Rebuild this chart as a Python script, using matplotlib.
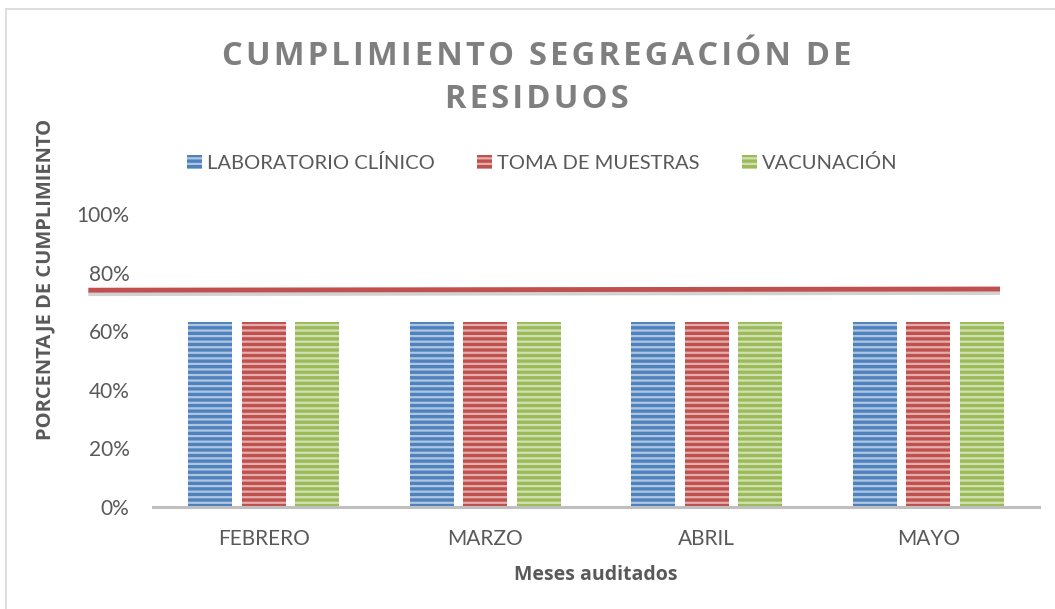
import matplotlib.pyplot as plt
import matplotlib.transforms as mtransforms
import matplotlib.patheffects as pe
import numpy as np

plt.rcParams['font.family'] = ['Lato', 'DejaVu Sans']
plt.rcParams['hatch.linewidth'] = 1.6
bold_font = ['Open Sans', 'DejaVu Sans']

# Data
meses = ['FEBRERO', 'MARZO', 'ABRIL', 'MAYO']
series = ['LABORATORIO CLÍNICO', 'TOMA DE MUESTRAS', 'VACUNACIÓN']
laboratorio = [0.63, 0.63, 0.63, 0.63]
toma_muestras = [0.63, 0.63, 0.63, 0.63]
vacunacion = [0.63, 0.63, 0.63, 0.63]
meta = 0.74
yticks = [0, 0.2, 0.4, 0.6, 0.8, 1.0]

colors = ['#4f81bd', '#c0504d', '#9bbb59']
text_gray = '#595959'

fig = plt.figure(figsize=(10.55, 6.09), dpi=100)
ax = fig.add_axes([153 / 1055, 102 / 609, 886 / 1055, 293 / 609])

x = np.arange(len(meses))
offsets = [-0.2415, 0, 0.2415]
for vals, off, col, name in zip([laboratorio, toma_muestras, vacunacion], offsets, colors, series):
    ax.bar(x + off, vals, 0.2, color=col, label=name, hatch='---',
           edgecolor=(1, 1, 1, 0.55), linewidth=0)

ax.set_xlim(-0.5, len(meses) - 0.5)
ax.set_ylim(0, 1)
ax.set_yticks(yticks)
ax.set_yticklabels([f'{int(v * 100)}%' for v in yticks])
ax.set_xticks(x)
ax.set_xticklabels(meses)
ax.tick_params(axis='both', length=0, labelsize=15, labelcolor=text_gray)
ax.tick_params(axis='y', pad=17)
ax.tick_params(axis='x', pad=16)
for s in ['top', 'right', 'left']:
    ax.spines[s].set_visible(False)
ax.spines['bottom'].set_color('#bfbfbf')
ax.spines['bottom'].set_linewidth(2.2)

# meta line (drawn across beyond the axes like the original shape)
trans = mtransforms.blended_transform_factory(ax.transAxes, ax.transData)
ax.plot([-0.073, 0.956], [meta, meta + 0.004], transform=trans, clip_on=False,
        color='#c0504d', lw=3.5, solid_capstyle='butt', zorder=5,
        path_effects=[pe.SimpleLineShadow(offset=(0, -2.5), shadow_color='#999999', alpha=0.45),
                      pe.Normal()])

ax.set_xlabel('Meses auditados', fontsize=14, fontweight='bold', color=text_gray,
              labelpad=11, family=bold_font)
fig.text(45 / 1055, 1 - 279 / 609, 'PORCENTAJE DE CUMPLIMIENTO', rotation=90,
         ha='center', va='center', fontsize=14.5, fontweight='bold', color=text_gray,
         family=bold_font)

title = 'CUMPLIMIENTO SEGREGACIÓN DE\nRESIDUOS'
title = '\n'.join('\u200a'.join(line) for line in title.split('\n'))
fig.text(537 / 1055, 1 - 78 / 609, title, ha='center', va='center', fontsize=23.5,
         fontweight='bold', color='#7f7f7f', linespacing=1.42, family=bold_font)

fig.legend(loc='center', bbox_to_anchor=(542 / 1055, 1 - 163 / 609), ncol=3, frameon=False,
           fontsize=14.5, handlelength=0.75, handleheight=0.75, handletextpad=0.25,
           columnspacing=2.1, labelcolor=text_gray)

# chart border (only top and left visible in the crop)
fig.add_artist(plt.Line2D([6 / 1055, 6 / 1055], [0, 1 - 9 / 609], color='#d9d9d9', lw=1.2))
fig.add_artist(plt.Line2D([6 / 1055, 1], [1 - 9 / 609, 1 - 9 / 609], color='#d9d9d9', lw=1.2))

fig.savefig('out.png', dpi=100)
